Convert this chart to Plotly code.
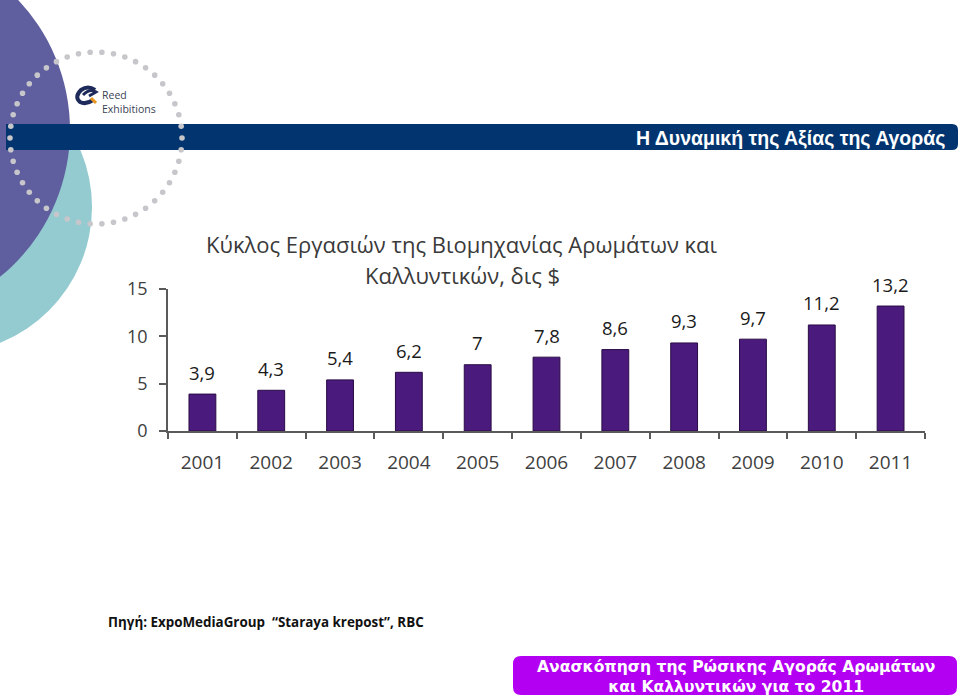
import math
import plotly.graph_objects as go

# ---- data ----
years = ["2001", "2002", "2003", "2004", "2005", "2006", "2007", "2008", "2009", "2010", "2011"]
values = [3.9, 4.3, 5.4, 6.2, 7.0, 7.8, 8.6, 9.3, 9.7, 11.2, 13.2]
value_labels = ["3,9", "4,3", "5,4", "6,2", "7", "7,8", "8,6", "9,3", "9,7", "11,2", "13,2"]
y_ticks = [0, 5, 10, 15]

title_lines = ["Κύκλος Εργασιών της Βιομηχανίας Αρωμάτων και", "Καλλυντικών, δις $"]
header_text = "Η Δυναμική της Αξίας της Αγοράς"
source_text = "Πηγή: ExpoMediaGroup  “Staraya krepost”, RBC"
footer_lines = ["Ανασκόπηση της Ρώσικης Αγοράς Αρωμάτων", "και Καλλυντικών για το 2011"]

W, H = 960, 696
PX0, PX1, PY0, PY1 = 168, 925, 289, 431  # plot area in pixels (left, right, top, bottom)


def px(x):
    return (x - PX0) / (PX1 - PX0)


def py(y):
    return (PY1 - y) / (PY1 - PY0)


fig = go.Figure()
fig.add_trace(go.Bar(
    x=years, y=values, width=0.39,
    marker=dict(color="#4A1A7C", line=dict(color="#2A0B45", width=1)),
    hoverinfo="x+y",
))

annotations = []
for i, (v, lab) in enumerate(zip(values, value_labels)):
    annotations.append(dict(x=i, y=v, xref="x", yref="y", text=lab, showarrow=False,
                            yshift=22, font=dict(family="Open Sans", size=18.5, color="#1a1a1a")))

# title
annotations.append(dict(x=px(462), y=py(244), xref="paper", yref="paper", text=title_lines[0],
                        showarrow=False, xanchor="center", yanchor="middle",
                        font=dict(family="Open Sans", size=22, color="#3a3a3a")))
annotations.append(dict(x=px(462), y=py(275), xref="paper", yref="paper", text=title_lines[1],
                        showarrow=False, xanchor="center", yanchor="middle",
                        font=dict(family="Open Sans", size=22, color="#3a3a3a")))
# header text
annotations.append(dict(x=px(947), y=py(138), xref="paper", yref="paper", text="<b>" + header_text + "</b>",
                        showarrow=False, xanchor="right", yanchor="middle",
                        font=dict(family="Liberation Sans", size=19.5, color="white")))
# logo text
annotations.append(dict(x=px(101), y=py(95), xref="paper", yref="paper", text="Reed",
                        showarrow=False, xanchor="left", yanchor="middle", borderpad=0,
                        font=dict(family="Open Sans", size=10.5, color="#3a3f55")))
annotations.append(dict(x=px(101), y=py(108.8), xref="paper", yref="paper", text="Exhibitions",
                        showarrow=False, xanchor="left", yanchor="middle", borderpad=0,
                        font=dict(family="Open Sans", size=10.5, color="#3a3f55")))
# source
annotations.append(dict(x=px(106), y=py(622), xref="paper", yref="paper", text="<b>" + source_text + "</b>",
                        showarrow=False, xanchor="left", yanchor="middle",
                        font=dict(family="Open Sans", size=13.4, color="#111111")))
# footer box text
annotations.append(dict(x=px(736), y=py(677), xref="paper", yref="paper",
                        text="<b>" + footer_lines[0] + "<br>" + footer_lines[1] + "</b>",
                        showarrow=False, xanchor="center", yanchor="middle",
                        font=dict(family="DejaVu Sans", size=15.6, color="white")))

shapes = []
# teal circle
cx, cy, r = -54, 207, 146
shapes.append(dict(type="circle", xref="paper", yref="paper", layer="below",
                   x0=px(cx - r), x1=px(cx + r), y0=py(cy + r), y1=py(cy - r),
                   fillcolor="#93CBD0", line=dict(width=0)))
# purple circle
cx, cy, r = -119, 130, 189
shapes.append(dict(type="circle", xref="paper", yref="paper", layer="below",
                   x0=px(cx - r), x1=px(cx + r), y0=py(cy + r), y1=py(cy - r),
                   fillcolor="#5F5E9E", line=dict(width=0)))
# header bar (rounded right end)
bx0, bx1, by0, by1, rr = 6, 958, 124, 150, 6
path = (f"M {px(bx0)} {py(by0)} L {px(bx1 - rr)} {py(by0)} "
        f"Q {px(bx1)} {py(by0)} {px(bx1)} {py(by0 + rr)} "
        f"L {px(bx1)} {py(by1 - rr)} Q {px(bx1)} {py(by1)} {px(bx1 - rr)} {py(by1)} "
        f"L {px(bx0)} {py(by1)} Z")
shapes.append(dict(type="path", xref="paper", yref="paper", layer="below", path=path,
                   fillcolor="#02356F", line=dict(width=0)))
# dotted ring
dcx, dcy, dr, n = 96, 138, 86, 46
for i in range(n):
    a = 2 * math.pi * i / n
    x = dcx + dr * math.cos(a)
    y = dcy + dr * math.sin(a)
    shapes.append(dict(type="circle", xref="paper", yref="paper", layer="below",
                       x0=px(x - 2.8), x1=px(x + 2.8), y0=py(y + 2.8), y1=py(y - 2.8),
                       fillcolor="#C6C6CB", line=dict(width=0)))
# logo icon
shapes.append(dict(type="path", xref="paper", yref="paper", layer="below",
                   path=(f"M {px(95)} {py(90)} Q {px(88)} {py(85)} {px(81)} {py(90)} "
                         f"Q {px(74)} {py(97)} {px(80)} {py(102)} Q {px(86)} {py(105)} {px(93)} {py(100)}"),
                   line=dict(color="#1E2A5A", width=4)))
shapes.append(dict(type="path", xref="paper", yref="paper", layer="below",
                   path=f"M {px(83)} {py(95)} Q {px(90)} {py(88)} {px(96)} {py(92)} L {px(89)} {py(96)}",
                   line=dict(color="#1E2A5A", width=3)))
shapes.append(dict(type="line", xref="paper", yref="paper", layer="below",
                   x0=px(91), y0=py(98), x1=px(96), y1=py(103),
                   line=dict(color="#E8961E", width=3)))
# footer box
fx0, fx1, fy0, fy1, fr = 513, 957, 656, 695, 8
path = (f"M {px(fx0 + fr)} {py(fy0)} L {px(fx1 - fr)} {py(fy0)} "
        f"Q {px(fx1)} {py(fy0)} {px(fx1)} {py(fy0 + fr)} L {px(fx1)} {py(fy1 - fr)} "
        f"Q {px(fx1)} {py(fy1)} {px(fx1 - fr)} {py(fy1)} L {px(fx0 + fr)} {py(fy1)} "
        f"Q {px(fx0)} {py(fy1)} {px(fx0)} {py(fy1 - fr)} L {px(fx0)} {py(fy0 + fr)} "
        f"Q {px(fx0)} {py(fy0)} {px(fx0 + fr)} {py(fy0)} Z")
shapes.append(dict(type="path", xref="paper", yref="paper", layer="below", path=path,
                   fillcolor="#B400F2", line=dict(width=0)))

fig.update_layout(
    width=W, height=H,
    margin=dict(l=PX0, r=W - PX1, t=PY0, b=H - PY1, pad=0),
    paper_bgcolor="white", plot_bgcolor="rgba(0,0,0,0)",
    showlegend=False,
    annotations=annotations, shapes=shapes,
    xaxis=dict(type="category", range=[-0.5, len(years) - 0.5], autorange=False,
               showline=True, linecolor="#5a5a5a", linewidth=1.5,
               ticks="outside", tickson="boundaries", ticklen=6, tickcolor="#5a5a5a", tickwidth=1.5,
               showgrid=False, zeroline=False, ticklabelstandoff=13, tickangle=0,
               tickfont=dict(family="Open Sans", size=19, color="#404040")),
    yaxis=dict(range=[0, 15], autorange=False, tickvals=y_ticks, showline=True, linecolor="#5a5a5a", linewidth=1.5,
               ticks="outside", ticklen=7, tickcolor="#5a5a5a", tickwidth=1.5,
               showgrid=False, zeroline=False, ticklabelstandoff=8,
               tickfont=dict(family="Open Sans", size=18, color="#404040")),
)

fig.write_html("out.html", config={"displayModeBar": False},
               post_script="document.body.style.margin='0';document.body.style.overflow='hidden';")
